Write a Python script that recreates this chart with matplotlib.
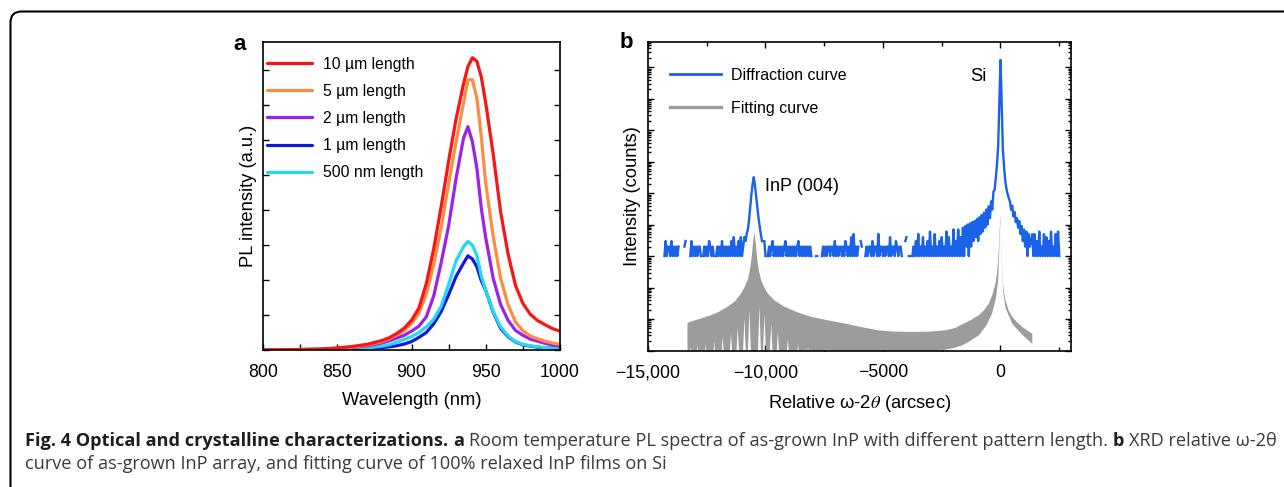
import numpy as np
import matplotlib
matplotlib.use("Agg")
import matplotlib.pyplot as plt
from matplotlib.lines import Line2D
from matplotlib.patches import FancyBboxPatch
from matplotlib.ticker import LogLocator, NullFormatter, MultipleLocator

plt.rcParams["font.family"] = ["Liberation Sans", "DejaVu Sans"]
plt.rcParams["mathtext.fontset"] = "stix"

W, H = 1284, 487

# ---------------- panel a: PL spectra ----------------
wl = [800, 820, 840, 850, 860, 870, 880, 885, 890, 895, 900, 905, 910, 915, 920, 925,
      930, 935, 938, 941, 944, 947, 950, 955, 960, 965, 970, 975, 980, 985, 990, 995, 1000]
pl_10um = [0.0, 0.01, 0.03, 0.06, 0.1, 0.16, 0.27, 0.35, 0.47, 0.62, 0.85, 1.2, 1.9, 2.9, 4.1, 5.4,
           6.6, 7.6, 8.1, 8.35, 8.25, 7.8, 7.05, 5.6, 3.95, 2.75, 1.85, 1.33, 1.02, 0.84, 0.72, 0.61, 0.54]
pl_5um = [0.0, 0.01, 0.02, 0.05, 0.08, 0.14, 0.24, 0.32, 0.43, 0.55, 0.76, 1.05, 1.6, 2.45, 3.5, 4.75,
          5.95, 7.05, 7.72, 7.72, 7.2, 6.1, 4.75, 3.25, 2.05, 1.3, 0.8, 0.55, 0.4, 0.32, 0.25, 0.2, 0.16]
pl_2um = [0.0, 0.01, 0.02, 0.04, 0.07, 0.12, 0.2, 0.26, 0.34, 0.42, 0.54, 0.68, 0.95, 1.55, 2.5, 3.55,
          4.9, 6.05, 6.38, 5.95, 5.2, 4.05, 3.2, 2.05, 1.3, 0.85, 0.56, 0.42, 0.31, 0.25, 0.19, 0.14, 0.11]
pl_1um = [0.0, 0.0, 0.01, 0.01, 0.02, 0.04, 0.07, 0.09, 0.12, 0.17, 0.24, 0.36, 0.5, 0.75, 1.1, 1.58,
          2.1, 2.48, 2.69, 2.6, 2.38, 1.98, 1.7, 1.08, 0.62, 0.38, 0.23, 0.15, 0.11, 0.08, 0.06, 0.05, 0.04]
pl_500nm = [0.0, 0.0, 0.01, 0.02, 0.03, 0.06, 0.11, 0.15, 0.22, 0.3, 0.38, 0.5, 0.66, 0.88, 1.25, 1.87,
            2.55, 2.95, 3.1, 3.0, 2.7, 2.1, 1.7, 1.1, 0.66, 0.4, 0.24, 0.16, 0.12, 0.09, 0.07, 0.06, 0.05]
labels_a = ["10 µm length", "5 µm length", "2 µm length", "1 µm length", "500 nm length"]
colors_a = ["#fa1414", "#ff8c42", "#9a22ee", "#0c18dc", "#22d8f2"]

# ---------------- panel b: XRD ----------------
# measured counts, one base-36 character per 50 arcsec step (0 = no counts -> gap)
blue_seg1_start = -14300
blue_seg1 = ("1312213121" "2120100230" "0013121212" "2101212132" "1210121213"
             "1212121314" "121314")
blue_inp_x = [-11000, -10950, -10900, -10850, -10800, -10750, -10700, -10650, -10600, -10550, -10500,
              -10450, -10400, -10350, -10300, -10250, -10200, -10150, -10100, -10050, -10000, -9950]
blue_inp_y = [1, 2, 4, 3, 5, 7, 14, 35, 90, 190, 320, 180, 80, 35, 17, 9, 5, 3, 0, 3, 1, 0]
blue_seg2_start = -9900
blue_seg2 = ("1212312121" "2121231212" "1212123121" "2121212100" "0110001212"
             "1221221312" "1221213212" "1415121203" "2001212213" "1221512212"
             "1221412213" "2122100340" "1101213151" "2141213161" "2151213141"
             "2161412171" "31714181")
blue_si_x = [-1500, -1450, -1400, -1350, -1300, -1250, -1200, -1150, -1100, -1050, -1000, -950, -900,
             -850, -800, -750, -700, -650, -600, -550, -500, -450, -400, -350, -300, -250, -200, -150,
             -100, -75, -50, -25, 0, 25, 50, 75, 100, 150, 200, 250, 300, 350, 400, 450, 500, 550, 600,
             650, 700, 750, 800, 850, 900, 950, 1000, 1050, 1100, 1150, 1200, 1250]
blue_si_y = [9, 2, 10, 1, 11, 2, 12, 3, 13, 4, 15, 3, 17, 5, 20, 6, 24, 8, 30, 10, 38, 16, 55, 30,
             110, 130, 300, 800, 3000, 15000, 80000, 500000, 1700000, 400000, 60000, 12000, 2500, 700,
             260, 140, 95, 70, 55, 30, 40, 18, 25, 12, 16, 8, 13, 5, 9, 3, 7, 2, 6, 1, 5, 2]
blue_seg3_start = 1300
blue_seg3 = "3515131612151413161215161"
seg_step = 50

# fitting curve (100% relaxed InP on Si): envelope of the fringes, log10(counts)
gray_up_x = [-13320, -13000, -12600, -12325, -12000, -11613, -11300, -11043, -10900, -10758, -10680,
             -10616, -10570, -10530, -10500, -10470, -10440, -10400, -10370, -10330, -10270, -10187,
             -10050, -9903, -9600, -9191, -8600, -8051, -7300, -6627, -5900, -5200, -4500, -3775,
             -3000, -2350, -1900, -1638, -1300, -926, -700, -499, -330, -214, -150, -100, -70, -43,
             -20, 0, 20, 43, 70, 100, 150, 214, 330, 499, 700, 926, 1150, 1354]
gray_up_dec = [-2.12, -2.04, -1.95, -1.88, -1.78, -1.61, -1.44, -1.19, -1.0, -0.76, -0.5, -0.22, 0.1,
               0.41, 0.6, 0.77, 0.55, 0.3, 0.05, -0.22, -0.5, -0.76, -1.0, -1.19, -1.42, -1.61, -1.8,
               -1.93, -2.05, -2.14, -2.26, -2.36, -2.4, -2.41, -2.4, -2.36, -2.28, -2.17, -2.05, -1.88,
               -1.72, -1.51, -1.2, -0.87, -0.55, -0.13, 0.25, 0.72, 1.05, 1.31, 0.75, 0.19, -0.35,
               -0.87, -1.15, -1.4, -1.7, -1.93, -2.1, -2.25, -2.37, -2.47]
gray_lo_x = [-13320, -13260, -13177, -13094, -12975, -12892, -12809, -12620, -12536, -12452, -12265,
             -12180, -12095, -11908, -11823, -11738, -11552, -11467, -11382, -11267, -11182, -11097,
             -10982, -10897, -10812, -10769, -10684, -10600, -10340, -10257, -10174, -10128, -10043,
             -9958, -9843, -9758, -9673, -9558, -9473, -9388, -9131, -9046, -8961, -8703, -8618,
             -8533, -8276, -8191, -8106, -3800, -2800, -2000, -1638, -1300, -926, -600, -356, -200,
             -100, -43, 0, 43, 100, 214, 499, 926, 1354]
gray_lo_dec = [-3.5, -3.5, -2.89, -3.5, -3.5, -2.83, -3.5, -3.5, -2.78, -3.5, -3.5, -2.72, -3.5, -3.5,
               -2.57, -3.5, -3.5, -2.46, -3.5, -3.5, -2.25, -3.5, -3.5, -1.98, -3.5, -3.5, -1.72,
               -3.5, -3.5, -1.61, -3.5, -3.5, -1.83, -3.5, -3.5, -2.14, -3.5, -3.5, -2.41, -3.5, -3.5,
               -2.62, -3.5, -3.5, -2.78, -3.5, -3.5, -2.89, -3.5, -3.5, -3.05, -2.92, -2.84, -2.7,
               -2.52, -2.2, -1.82, -1.35, -0.8, 0.4, 1.2, 0.05, -1.05, -1.65, -2.15, -2.5, -2.79]

xt_b = [-15000, -10000, -5000, 0]
xt_b_labels = ["\u221215,000", "\u221210,000", "\u22125000", "0"]

BLUE_B = "#1a62e8"
GRAY_B = "#9c9c9c"


def seg(start, s):
    v = [int(c, 36) for c in s]
    return [start + seg_step * i for i in range(len(v))], v


def axes_box(l, t, r, b):
    return [l / W, 1 - b / H, (r - l) / W, (b - t) / H]


def style(ax):
    for s in ax.spines.values():
        s.set_linewidth(1.2)
    ax.tick_params(which="both", direction="in", width=1.0, labelsize=12.8)
    ax.tick_params(axis="x", which="both", pad=10)
    ax.tick_params(which="major", length=4.5)
    ax.tick_params(which="minor", length=3)


fig = plt.figure(figsize=(W / 100, H / 100), dpi=100)

# ---- panel a ----
ax = fig.add_axes(axes_box(263, 42, 560, 350))
series = list(zip(labels_a, [pl_10um, pl_5um, pl_2um, pl_1um, pl_500nm], colors_a))
handles = {}
for name, y, c in [series[3], series[4], series[2], series[1], series[0]]:
    handles[name], = ax.plot(wl, y, color=c, lw=2.3, label=name, solid_capstyle="round")
ax.set_xlim(800, 1000)
ax.set_ylim(0, 8.8)
ax.set_xticks([800, 850, 900, 950, 1000])
ax.xaxis.set_minor_locator(MultipleLocator(25))
ax.yaxis.set_major_locator(MultipleLocator(1))
ax.set_yticklabels([])
style(ax)
ax.tick_params(axis="y", which="both", right=True)
ax.tick_params(axis="x", which="minor", length=4.5)
ax.set_xlabel("Wavelength (nm)", fontsize=13.2, labelpad=8)
ax.set_ylabel("PL intensity (a.u.)", fontsize=13.2, labelpad=0.5)
ax.legend([handles[n] for n in labels_a], labels_a, loc="upper left",
          bbox_to_anchor=(0.012, 0.952), frameon=False, fontsize=11.3, handlelength=2.9,
          handletextpad=0.7, labelspacing=0.77, borderaxespad=0, borderpad=0)
fig.text(240 / W, 1 - 44 / H, "a", fontsize=16, fontweight="bold", ha="center", va="center")

# ---- panel b ----
bx = fig.add_axes(axes_box(648, 42, 1071, 350.5))
gx = list(gray_up_x) + list(gray_lo_x[::-1])
gy = [10.0 ** d for d in gray_up_dec] + [10.0 ** d for d in gray_lo_dec[::-1]]
bx.fill(gx, gy, color=GRAY_B, lw=0, zorder=2)

x1, y1 = seg(blue_seg1_start, blue_seg1)
x2, y2 = seg(blue_seg2_start, blue_seg2)
x3, y3 = seg(blue_seg3_start, blue_seg3)
bxs = x1 + blue_inp_x + x2 + blue_si_x + x3
bys = np.array(y1 + blue_inp_y + y2 + blue_si_y + y3, dtype=float)
bys[bys <= 0] = np.nan
bx.plot(bxs, bys, color=BLUE_B, lw=1.7, zorder=3)

bx.set_yscale("log")
bx.set_xlim(-15000, 3000)
bx.set_ylim(1e-3, 10 ** 6.8)
bx.set_xticks(xt_b, xt_b_labels)
bx.xaxis.set_minor_locator(MultipleLocator(2500))
bx.yaxis.set_major_locator(LogLocator(base=10, numticks=100))
bx.yaxis.set_minor_locator(LogLocator(base=10, subs=np.arange(2, 10), numticks=100))
bx.yaxis.set_major_formatter(NullFormatter())
bx.yaxis.set_minor_formatter(NullFormatter())
style(bx)
bx.tick_params(which="both", top=True, right=True)
bx.tick_params(axis="y", which="minor", length=2.5)
bx.set_xlabel(r"Relative ω-2$\theta$ (arcsec)", fontsize=13.2, labelpad=8)
bx.set_ylabel("Intensity (counts)", fontsize=13.2, labelpad=1.5)
bx.text(-10013, 10 ** 2.2, "InP (004)", fontsize=13, ha="left", va="center")
bx.text(-1282, 10 ** 5.71, "Si", fontsize=13.2, ha="left", va="center")
legend_b = [Line2D([], [], color=BLUE_B, lw=2.0), Line2D([], [], color=GRAY_B, lw=2.4)]
bx.legend(legend_b, ["Diffraction curve", "Fitting curve"], loc="upper left",
          bbox_to_anchor=(0.052, 0.917), frameon=False, fontsize=11.5, handlelength=3.2,
          handletextpad=0.63, labelspacing=1.15, borderaxespad=0, borderpad=0)
fig.text(626 / W, 1 - 43 / H, "b", fontsize=16, fontweight="bold", ha="center", va="center")

# ---- frame ----
frame = FancyBboxPatch((10.5, -60), 1400, H - 11.5 + 60,
                       boxstyle="round,pad=0,rounding_size=11", transform=None,
                       fill=False, lw=1.5, ec="black")
fig.add_artist(frame)

# ---- caption ----
cap_font = ["Open Sans", "DejaVu Sans"]
line1 = [("Fig. 4 Optical and crystalline characterizations.", "bold"), ("a", "bold"),
         ("Room temperature PL spectra of as-grown InP with different pattern length.", "normal"),
         ("b", "bold"), ("XRD relative ω-2θ", "normal")]
line2 = [("curve of as-grown InP array, and fitting curve of 100% relaxed InP films on Si", "normal")]
cap_color = {"bold": "#1e1e1e", "normal": "#3a3a3a"}

fig.canvas.draw()
rend = fig.canvas.get_renderer()


def width(t):
    return t.get_window_extent(rend).width


def make(pieces, y, size):
    ts = [fig.text(0, 1 - y / H, s, fontsize=size, fontweight=w, family=cap_font,
                   color=cap_color[w], va="baseline") for s, w in pieces]
    return ts


probe = fig.text(0, 0, "x x", fontsize=10, family=cap_font)
probe2 = fig.text(0, 0, "xx", fontsize=10, family=cap_font)
sp10 = width(probe) - width(probe2)
probe.remove()
probe2.remove()
t1 = make(line1, 446, 10)
total = sum(width(t) for t in t1) + sp10 * (len(t1) - 1)
size = 10 * (1278 - 25) / total
sp = sp10 * size / 10
for t in t1:
    t.set_fontsize(size)
t2 = make(line2, 469, size)
x = 25.0
for t in t1:
    t.set_x(x / W)
    x += width(t) + sp
t2[0].set_x(25 / W)

fig.savefig("out.png", dpi=100)
